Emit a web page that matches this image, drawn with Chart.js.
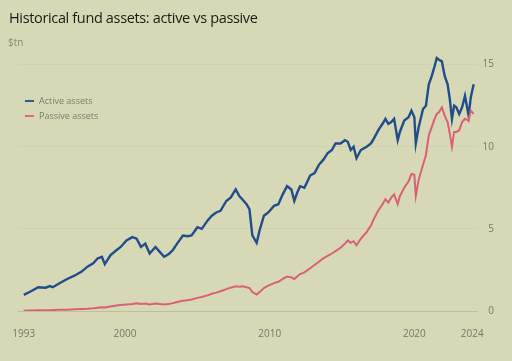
<!DOCTYPE html>
<html>
<head>
<meta charset="utf-8">
<script src="https://cdn.jsdelivr.net/npm/chart.js@4"></script>
<style>
    html, body { margin: 0; padding: 0; background: #d6d8b6; }
    #wrap { position: relative; width: 512px; height: 361px; overflow: hidden; font-family: "Open Sans", sans-serif; }
    #chart { position: absolute; left: 0; top: 0; }
    .title { position: absolute; left: 9px; top: 8px; font-size: 14.5px; font-weight: 500; color: #1b1b17; letter-spacing: -0.35px; }
    .unit { position: absolute; left: 8px; top: 35px; font-size: 10px; color: #8a8b78; }
    .legend { position: absolute; left: 25px; top: 93px; font-size: 9px; color: #7c7d6c; line-height: 15px; }
    .legend span.swatch { display: inline-block; width: 9px; height: 2px; margin-right: 5px; vertical-align: middle; position: relative; top: -1px; }
</style>
</head>
<body>
<div id="wrap">
    <canvas id="chart" width="512" height="361"></canvas>
    <div class="title">Historical fund assets: active vs passive</div>
    <div class="unit">$tn</div>
    <div class="legend">
        <div><span class="swatch" style="background:#2a5a96"></span>Active assets</div>
        <div><span class="swatch" style="background:#dc6a80"></span>Passive assets</div>
    </div>
</div>
<script>
// Dates as decimal years, values in $tn
const dates = [
    1993.0, 1993.5, 1994.0, 1994.5, 1994.8, 1995.0, 1995.5, 1996.0, 1996.5, 1997.0,
    1997.4, 1997.8, 1998.1, 1998.4, 1998.6, 1999.0, 1999.4, 1999.7, 2000.1, 2000.5,
    2000.8, 2001.1, 2001.4, 2001.7, 2002.1, 2002.4, 2002.7, 2003.0, 2003.3, 2003.6,
    2004.0, 2004.3, 2004.6, 2005.0, 2005.3, 2005.7, 2006.0, 2006.3, 2006.6, 2007.0,
    2007.3, 2007.65, 2007.9, 2008.1, 2008.4, 2008.6, 2008.8, 2009.1, 2009.3, 2009.6,
    2009.9, 2010.3, 2010.6, 2010.9, 2011.2, 2011.5, 2011.7, 2011.9, 2012.1, 2012.4,
    2012.8, 2013.1, 2013.4, 2013.7, 2014.0, 2014.3, 2014.55, 2014.9, 2015.2, 2015.4,
    2015.6, 2015.8, 2016.0, 2016.3, 2016.7, 2017.0, 2017.2, 2017.5, 2017.8, 2018.0,
    2018.2, 2018.4, 2018.6, 2018.85, 2019.0, 2019.3, 2019.6, 2019.8, 2020.0, 2020.1,
    2020.3, 2020.6, 2020.8, 2021.0, 2021.2, 2021.4, 2021.55, 2021.7, 2021.9, 2022.1,
    2022.3, 2022.45, 2022.6, 2022.75, 2022.9, 2023.1, 2023.3, 2023.5, 2023.75, 2023.9,
    2024.1
];

const active = [
    0.98, 1.2, 1.45, 1.42, 1.52, 1.45, 1.7, 1.95, 2.15, 2.4,
    2.7, 2.9, 3.2, 3.3, 2.85, 3.4, 3.7, 3.9, 4.3, 4.5,
    4.4, 3.9, 4.1, 3.5, 3.9, 3.6, 3.3, 3.45, 3.7, 4.1,
    4.6, 4.55, 4.6, 5.1, 5.0, 5.5, 5.8, 6.0, 6.1, 6.7,
    6.9, 7.4, 7.0, 6.8, 6.5, 6.2, 4.6, 4.15, 4.9, 5.8,
    6.0, 6.4, 6.5, 7.1, 7.6, 7.4, 6.7, 7.2, 7.6, 7.5,
    8.25, 8.4, 8.9, 9.2, 9.6, 9.8, 10.2, 10.2, 10.4, 10.3,
    9.8, 10.0, 9.3, 9.8, 10.0, 10.2, 10.5, 11.0, 11.4, 11.7,
    11.4, 11.5, 11.7, 10.4, 10.9, 11.6, 11.8, 12.2, 11.8, 10.2,
    11.2, 12.3, 12.5, 13.8, 14.3, 14.9, 15.4, 15.3, 15.2, 14.3,
    13.8, 12.9, 11.7, 12.5, 12.4, 12.0, 12.4, 13.1, 11.9, 13.0,
    13.8
];

const passive = [
    0.02, 0.03, 0.04, 0.05, 0.05, 0.06, 0.07, 0.08, 0.1, 0.12,
    0.14, 0.17, 0.2, 0.23, 0.22, 0.28, 0.33, 0.36, 0.4, 0.43,
    0.47, 0.43, 0.46, 0.4, 0.45, 0.42, 0.4, 0.42, 0.48, 0.55,
    0.62, 0.65, 0.7, 0.8, 0.85, 0.95, 1.05, 1.12, 1.2, 1.33,
    1.42, 1.5, 1.47, 1.5, 1.45, 1.4, 1.15, 1.0, 1.15, 1.4,
    1.55, 1.7, 1.78, 1.95, 2.1, 2.05, 1.95, 2.1, 2.25, 2.35,
    2.6, 2.8, 3.0, 3.2, 3.35, 3.5, 3.65, 3.85, 4.1, 4.3,
    4.15, 4.25, 4.0, 4.4, 4.8, 5.2, 5.6, 6.1, 6.5, 6.8,
    6.6, 6.9, 7.1, 6.5, 7.0, 7.5, 7.9, 8.35, 8.3, 7.0,
    8.0, 8.9, 9.5, 10.7, 11.2, 11.7, 12.0, 12.1, 12.4, 11.9,
    11.5, 10.8, 10.0, 10.9, 10.9, 11.0, 11.5, 11.7, 11.6, 12.2,
    12.0
];

const xTicks = [1993, 2000, 2010, 2020, 2024];
const yTicks = [0, 5, 10, 15];

const tickFont = { family: '"Open Sans", sans-serif', size: 10 };
const tickColor = '#77786a';

function toPoints(values) {
    return values.map((v, i) => ({ x: dates[i], y: v }));
}

new Chart(document.getElementById('chart'), {
    type: 'line',
    data: {
        datasets: [
            {
                label: 'Passive assets',
                data: toPoints(passive),
                borderColor: '#dc5f78',
                borderWidth: 2,
                pointRadius: 0,
                tension: 0
            },
            {
                label: 'Active assets',
                data: toPoints(active),
                borderColor: '#214d8b',
                borderWidth: 2.4,
                pointRadius: 0,
                tension: 0
            }
        ]
    },
    options: {
        responsive: false,
        animation: false,
        devicePixelRatio: 1,
        layout: { padding: { left: 18, top: 40, right: 18, bottom: 0 } },
        plugins: {
            legend: { display: false },
            tooltip: { enabled: false }
        },
        scales: {
            x: {
                type: 'linear',
                min: 1992.6,
                max: 2024.4,
                afterBuildTicks: scale => { scale.ticks = xTicks.map(v => ({ value: v })); },
                afterFit: scale => { scale.height = 50; },
                grid: { display: false },
                border: { display: false },
                ticks: {
                    font: tickFont,
                    color: tickColor,
                    padding: 9,
                    maxRotation: 0,
                    autoSkip: false,
                    callback: v => String(v)
                }
            },
            y: {
                position: 'right',
                min: 0,
                max: 16.5,
                afterBuildTicks: scale => { scale.ticks = yTicks.map(v => ({ value: v })); },
                afterFit: scale => { scale.width = 16; },
                border: { display: false },
                grid: {
                    drawTicks: false,
                    color: ctx => ctx.tick && ctx.tick.value === 0 ? 'rgba(60,60,40,0.16)' : 'rgba(60,60,40,0.04)',
                    lineWidth: 1
                },
                ticks: {
                    font: tickFont,
                    color: tickColor,
                    padding: 5,
                    crossAlign: 'far'
                }
            }
        }
    }
});
</script>
</body>
</html>
